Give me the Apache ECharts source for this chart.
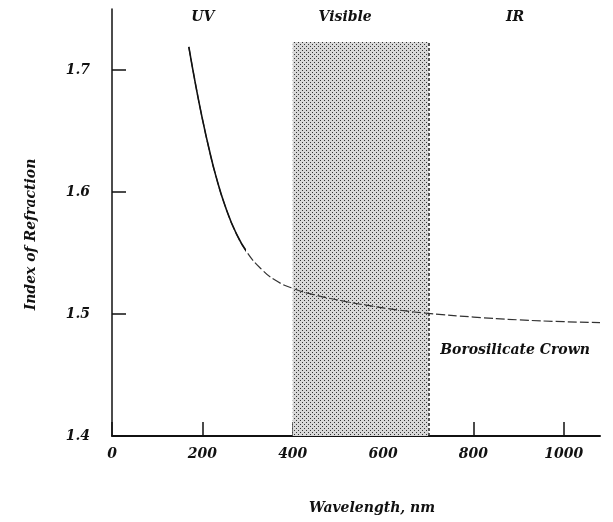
<!DOCTYPE html>
<html>
<head>
<meta charset="utf-8">
<script src="https://cdn.jsdelivr.net/npm/echarts@6/dist/echarts.min.js"></script>
<style>
  html, body { margin: 0; padding: 0; background: #fff; }
  #chart { width: 613px; height: 522px; }
</style>
</head>
<body>
<div id="chart"></div>
<script>
// refractive index curve, borosilicate crown glass
const wavelengths = [170, 185, 200, 215, 230, 250, 275, 300, 330, 360, 400, 450, 500, 550, 600, 650, 700, 800, 900, 1000, 1080]
const indexValues = [1.719, 1.688, 1.660, 1.635, 1.613, 1.589, 1.566, 1.550, 1.537, 1.528, 1.521, 1.5155, 1.5115, 1.508, 1.505, 1.5025, 1.5005, 1.4975, 1.4952, 1.4937, 1.493]
const solidUntil = 300

const xTicks = [0, 200, 400, 600, 800, 1000]
const yTicks = [1.4, 1.5, 1.6, 1.7]

// spectrum bands across the top
const bandNames = ['UV', 'Visible', 'IR']
const bandX = [201, 516, 892]
const bandY = 1.743

// shaded visible region
const visibleRange = [400, 700]
const visibleTop = 1.723

const curveName = 'Borosilicate Crown'
const curveLabelAt = [892, 1.4705]

const font = 'DejaVu Serif'
const textStyle = { fontFamily: font, fontStyle: 'italic', fontWeight: 'bold', fontSize: 14, color: '#111' }

// stipple pattern for the shaded band
const makeStipple = () => {
  const c = document.createElement('canvas')
  c.width = 4
  c.height = 4
  const ctx = c.getContext('2d')
  ctx.fillStyle = '#d8d8d8'
  ctx.fillRect(0, 0, 4, 4)
  ctx.fillStyle = '#333'
  ctx.fillRect(0, 0, 1, 1)
  ctx.fillRect(2, 2, 1, 1)
  return c
}

const points = wavelengths.map((w, i) => [w, indexValues[i]])

// solid stroke only over the UV end, the rest is left to the broken line below it
const cut = (solidUntil - wavelengths[0]) / (wavelengths[wavelengths.length - 1] - wavelengths[0])
const solidStroke = {
  type: 'linear', x: 0, y: 0, x2: 1, y2: 0,
  colorStops: [
    { offset: 0, color: '#111' },
    { offset: cut, color: '#111' },
    { offset: cut, color: 'rgba(0,0,0,0)' },
    { offset: 1, color: 'rgba(0,0,0,0)' },
  ],
}

const chart = echarts.init(document.getElementById('chart'))

const option = {
  animation: false,
  grid: { left: 112, right: 13, top: 9, bottom: 86 },
  xAxis: {
    type: 'value',
    min: 0,
    max: 1080,
    interval: 200,
    name: 'Wavelength, nm',
    nameLocation: 'middle',
    nameGap: 65,
    nameTextStyle: { ...textStyle, padding: [0, 0, 0, 32] },
    axisLine: { lineStyle: { color: '#111', width: 2 } },
    axisTick: { inside: true, length: 14, lineStyle: { color: '#111', width: 1.5 }, customValues: xTicks },
    axisLabel: { ...textStyle, margin: 11, customValues: xTicks, formatter: v => String(v) },
    splitLine: { show: false },
  },
  yAxis: {
    type: 'value',
    min: 1.4,
    max: 1.75,
    interval: 0.1,
    name: 'Index of Refraction',
    nameLocation: 'middle',
    nameGap: 74,
    nameTextStyle: { ...textStyle, padding: [0, 24, 0, 0] },
    axisLine: { show: true, lineStyle: { color: '#111', width: 1.5 } },
    axisTick: { inside: true, length: 14, lineStyle: { color: '#111', width: 1.5 }, customValues: yTicks },
    axisLabel: { ...textStyle, margin: 22, customValues: yTicks, formatter: v => v.toFixed(1) },
    splitLine: { show: false },
  },
  series: [
    {
      name: 'visible',
      type: 'line',
      data: [],
      markArea: {
        silent: true,
        itemStyle: { color: { image: makeStipple(), repeat: 'repeat' } },
        data: [[{ coord: [visibleRange[0], 1.4] }, { coord: [visibleRange[1], visibleTop] }]],
      },
      markLine: {
        silent: true,
        symbol: 'none',
        label: { show: false },
        lineStyle: { color: '#222', type: [3, 2], width: 1.5 },
        data: [[{ coord: [visibleRange[1], 1.4] }, { coord: [visibleRange[1], visibleTop] }]],
      },
    },
    {
      name: curveName + ' (broken)',
      type: 'line',
      smooth: 0.5,
      symbol: 'none',
      lineStyle: { color: '#333', width: 1.2, type: [9, 3] },
      data: points,
    },
    {
      name: curveName,
      type: 'line',
      smooth: 0.5,
      symbol: 'none',
      lineStyle: { color: solidStroke, width: 1.6 },
      data: points,
    },
    {
      name: 'labels',
      type: 'scatter',
      symbolSize: 0,
      silent: true,
      itemStyle: { opacity: 1 },
      label: {
        show: true,
        position: 'inside',
        formatter: p => p.data[2],
        ...textStyle,
      },
      data: bandNames.map((n, i) => [bandX[i], bandY, n]).concat([[curveLabelAt[0], curveLabelAt[1], curveName]]),
    },
  ],
}

chart.setOption(option)
</script>
</body>
</html>
